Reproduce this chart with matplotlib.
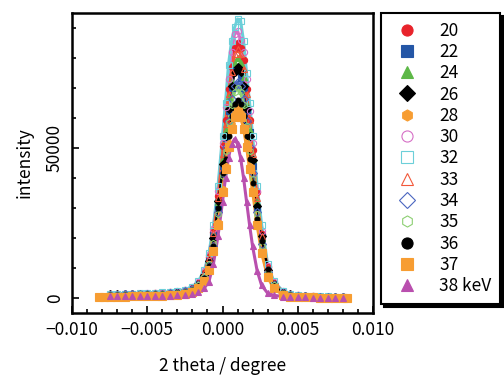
import matplotlib
matplotlib.use("Agg")
import matplotlib.pyplot as plt
from matplotlib.ticker import MultipleLocator

plt.rcParams['font.family'] = ['Noto Sans CJK JP', 'DejaVu Sans']
plt.rcParams['font.size'] = 12.5

# scan angle grid (degree)
theta = [-0.0075, -0.0070, -0.0065, -0.0060, -0.0055, -0.0050, -0.0045, -0.0040,
         -0.0035, -0.0030, -0.0025, -0.0020, -0.0016, -0.0012, -0.0009, -0.0006,
         -0.0003, 0.0000, 0.0002, 0.0004, 0.0006, 0.0008, 0.0010, 0.0012,
         0.0014, 0.0016, 0.0018, 0.0020, 0.0023, 0.0026, 0.0030, 0.0034,
         0.0040, 0.0045, 0.0050, 0.0055, 0.0060, 0.0065, 0.0070, 0.0075, 0.0080]
# the 37 keV scan runs a little wider
theta_wide = [-0.0082, -0.0079] + theta + [0.0083]

energies = ["20", "22", "24", "26", "28", "30", "32", "33", "34", "35", "36", "37", "38 keV"]
xticks = [-0.010, -0.005, 0.000, 0.005, 0.010]
xtick_labels = ["\u22120.010", "\u22120.005", "0.000", "0.005", "0.010"]

i20 = [1300, 1300, 1400, 1400, 1400, 1500, 1600, 1700, 1900, 2100, 2600, 3400, 5100, 8500,
       13600, 22100, 34000, 50800, 59500, 69700, 77100, 83300, 85000, 83300, 79400, 69700,
       59500, 49300, 35200, 21300, 10200, 5100, 2100, 1300, 900, 700, 600, 500, 500, 400, 400]
i22 = [1100, 1100, 1200, 1200, 1300, 1400, 1400, 1500, 1700, 1900, 2300, 3000, 4600, 7600,
       12200, 21000, 30400, 44100, 53200, 62300, 69900, 76800, 76000, 73200, 69900, 62300,
       55400, 44100, 30400, 20300, 9100, 4600, 1900, 1100, 800, 600, 500, 500, 500, 400, 400]
i24 = [1200, 1200, 1300, 1300, 1400, 1400, 1500, 1600, 1800, 2000, 2400, 3200, 4800, 8000,
       12800, 20800, 32000, 46400, 56000, 66900, 72500, 78400, 80000, 78400, 73600, 64300,
       56000, 46400, 32000, 20000, 9600, 4800, 2000, 1200, 800, 600, 600, 500, 500, 400, 400]
i26 = [1200, 1200, 1200, 1200, 1300, 1400, 1500, 1500, 1700, 1900, 2300, 3100, 4600, 7700,
       12300, 20000, 32400, 44700, 53900, 63100, 70800, 75500, 77000, 75500, 70800, 63100,
       53900, 46100, 30800, 20600, 9200, 4600, 1900, 1200, 800, 600, 500, 500, 500, 400, 400]
i28 = [900, 900, 1000, 1000, 1100, 1100, 1200, 1300, 1400, 1600, 1900, 2500, 3800, 6300,
       10100, 16400, 25200, 36500, 44100, 51700, 58000, 61700, 63800, 61700, 57100, 51700,
       44100, 36500, 26300, 15800, 7600, 3800, 1600, 900, 600, 500, 400, 400, 400, 300, 300]
i30 = [1300, 1300, 1400, 1400, 1500, 1600, 1700, 1800, 2000, 2200, 2700, 3600, 5300, 8900,
       14200, 23100, 35600, 51600, 63600, 73000, 81900, 88000, 89000, 86100, 81900, 73000,
       62300, 51600, 35600, 22300, 10700, 5300, 2200, 1300, 900, 700, 600, 500, 500, 400, 400]
i32 = [1400, 1400, 1500, 1500, 1600, 1700, 1800, 1900, 2000, 2300, 2800, 3700, 5600, 9300,
       14900, 24200, 37200, 53900, 65100, 77800, 85600, 90200, 93000, 92400, 85600, 74900,
       65100, 53900, 37200, 24500, 11200, 5600, 2300, 1400, 900, 700, 700, 600, 600, 500, 500]
i33 = [1200, 1200, 1300, 1300, 1400, 1500, 1600, 1700, 1800, 2100, 2500, 3300, 5000, 8300,
       13300, 21600, 33200, 48100, 58100, 68100, 75200, 81300, 83000, 81300, 76400, 68100,
       59300, 48100, 33200, 20800, 10000, 5000, 2100, 1200, 800, 700, 600, 500, 500, 400, 400]
i34 = [1100, 1100, 1200, 1200, 1200, 1300, 1400, 1400, 1600, 1800, 2200, 2900, 4300, 6700,
       10800, 17500, 28800, 41800, 50400, 59000, 66200, 70600, 72000, 70600, 66200, 59000,
       50400, 41800, 28800, 18000, 8600, 4300, 1800, 1100, 700, 600, 500, 400, 400, 400, 400]
i35 = [1100, 1100, 1100, 1100, 1200, 1300, 1300, 1400, 1500, 1800, 2100, 2800, 4200, 7000,
       11200, 18200, 28000, 40600, 49000, 58600, 64400, 68600, 70000, 68600, 64400, 57400,
       49000, 39700, 28000, 17500, 8400, 4200, 1800, 1100, 700, 600, 500, 400, 400, 400, 400]
i36 = [1000, 1000, 1100, 1100, 1100, 1200, 1300, 1300, 1500, 1700, 2000, 2600, 4000, 6600,
       10600, 17200, 30100, 41800, 46200, 54100, 60700, 64700, 66000, 64700, 60700, 54100,
       46200, 38300, 26400, 18900, 9600, 4000, 1700, 1000, 700, 500, 500, 400, 400, 300, 300]
i37 = [300, 400, 500, 500, 500, 600, 600, 700, 700, 800, 900, 1100, 1400, 2000, 3200, 5700,
       9400, 15600, 24300, 35500, 43000, 50300, 56500, 60300, 62000, 60300, 56500, 50300,
       43000, 35500, 24300, 15000, 7000, 3200, 1100, 500, 300, 200, 200, 100, 100, 100, 100, 100]
i38 = [600, 600, 600, 600, 600, 700, 700, 700, 800, 900, 1100, 1500, 2100, 3400,
       5500, 11500, 20600, 32100, 40000, 46800, 51300, 53000, 51300, 46800, 40000, 32100,
       24300, 17200, 9100, 4200, 1600, 900, 500, 300, 200, 200, 100, 100, 100, 100, 100]

# x, y, marker, colour, filled, marker size
series = [
    (theta, i20, "o", "#e8232b", True, 4.5),
    (theta, i22, "s", "#2456a6", True, 4.5),
    (theta, i24, "^", "#5db847", True, 4.5),
    (theta, i26, "D", "#000000", True, 4),
    (theta, i28, "h", "#f79d32", True, 4.5),
    (theta, i30, "o", "#d66fc6", False, 4.5),
    (theta, i32, "s", "#6ccfd9", False, 5),
    (theta, i33, "^", "#f2583a", False, 4.5),
    (theta, i34, "D", "#4b66c0", False, 4),
    (theta, i35, "h", "#8ccf72", False, 4.5),
    (theta, i36, "o", "#000000", True, 3.5),
    (theta_wide, i37, "s", "#f79d32", True, 6),
    (theta, i38, "^", "#b94fae", True, 5),
]

fig = plt.figure(figsize=(5.04, 3.78), dpi=100)
ax = fig.add_axes([72 / 504, 1 - 313 / 378, 301 / 504, 300 / 378])

handles = []
for (x, y, mk, col, filled, ms), lab in zip(series, energies):
    fc = col if filled else "none"
    ax.plot(x, y, color=col, lw=2.2, zorder=2)
    ax.plot(x, y, ls="none", marker=mk, ms=ms, mfc=fc, mec=col, mew=0.8, zorder=3)
    h, = ax.plot([], [], ls="none", marker=mk, ms=8, mfc=fc, mec=col, mew=0.8, label=lab)
    handles.append(h)

ax.set_xlim(-0.010, 0.010)
ax.set_ylim(-5000, 95000)
ax.set_xticks(xticks)
ax.set_xticklabels(xtick_labels)
ax.xaxis.set_minor_locator(MultipleLocator(0.001))
ax.set_yticks([0, 50000])
ax.set_yticklabels(["0", "50000"], rotation=90, va="center")
ax.yaxis.set_minor_locator(MultipleLocator(10000))
ax.tick_params(which="both", direction="in", width=1.2, top=False, right=False, pad=6)
ax.tick_params(which="major", length=5)
ax.tick_params(which="minor", length=3)
for sp in ax.spines.values():
    sp.set_linewidth(1.8)

ax.set_xlabel("2 theta / degree", labelpad=13)
ax.set_ylabel("intensity", labelpad=9)

leg = fig.legend(handles=handles, loc="upper left", bbox_to_anchor=(381 / 504, 1 - 13 / 378),
                 frameon=True, fancybox=False, edgecolor="black", framealpha=1,
                 shadow={"color": "black", "alpha": 1}, fontsize=12.5,
                 labelspacing=0.19, handletextpad=0.85, borderpad=0.5, handlelength=2.0,
                 borderaxespad=0)
leg.get_frame().set_linewidth(1.5)

fig.savefig("out.png", dpi=100)
